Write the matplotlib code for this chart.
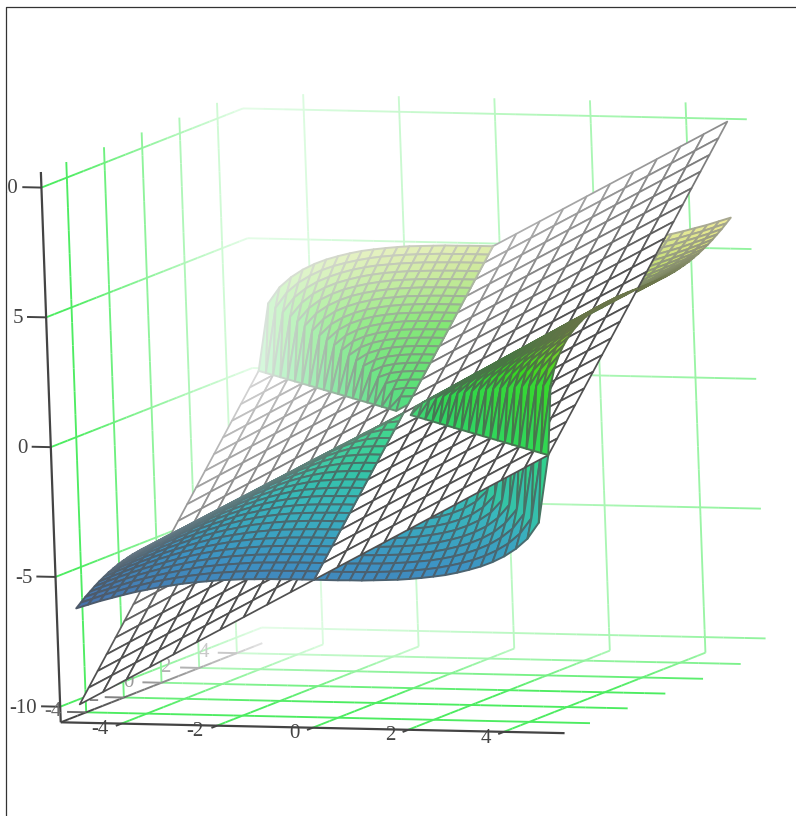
import matplotlib
matplotlib.use('Agg')
import matplotlib.pyplot as plt
import numpy as np
from matplotlib.colors import LinearSegmentedColormap, Normalize, to_rgb
from matplotlib.lines import Line2D
from matplotlib.transforms import Bbox
from mpl_toolkits.mplot3d import proj3d
from mpl_toolkits.mplot3d.art3d import Line3DCollection, Poly3DCollection

W, H = 796, 816

# ticks and axis ranges
x_ticks = [-4, -2, 0, 2, 4]
y_ticks = [-4, -2, 0, 2, 4]
z_ticks = [-10, -5, 0, 5, 10]
x_range = [-5.27, 5.27]
y_range = [-5.35, 5.35]
z_range = [-10.6, 10.6]

# flat mesh, y from -5 to 0 (the other half is the same turned around the centre)
plane_x = [-5, -4.5, -4, -3.5, -3, -2.5, -2, -1.5, -1, -0.5, 0, 0.5, 1, 1.5, 2, 2.5, 3, 3.5, 4, 4.5, 5]
plane_rows = [
    [-10, -9.5, -9, -8.5, -8, -7.5, -7, -6.5, -6, -5.5, -5, -4.5, -4, -3.5, -3, -2.5, -2, -1.5, -1, -0.5, 0],
    [-9.5, -9, -8.5, -8, -7.5, -7, -6.5, -6, -5.5, -5, -4.5, -4, -3.5, -3, -2.5, -2, -1.5, -1, -0.5, 0, 0.5],
    [-9, -8.5, -8, -7.5, -7, -6.5, -6, -5.5, -5, -4.5, -4, -3.5, -3, -2.5, -2, -1.5, -1, -0.5, 0, 0.5, 1],
    [-8.5, -8, -7.5, -7, -6.5, -6, -5.5, -5, -4.5, -4, -3.5, -3, -2.5, -2, -1.5, -1, -0.5, 0, 0.5, 1, 1.5],
    [-8, -7.5, -7, -6.5, -6, -5.5, -5, -4.5, -4, -3.5, -3, -2.5, -2, -1.5, -1, -0.5, 0, 0.5, 1, 1.5, 2],
    [-7.5, -7, -6.5, -6, -5.5, -5, -4.5, -4, -3.5, -3, -2.5, -2, -1.5, -1, -0.5, 0, 0.5, 1, 1.5, 2, 2.5],
    [-7, -6.5, -6, -5.5, -5, -4.5, -4, -3.5, -3, -2.5, -2, -1.5, -1, -0.5, 0, 0.5, 1, 1.5, 2, 2.5, 3],
    [-6.5, -6, -5.5, -5, -4.5, -4, -3.5, -3, -2.5, -2, -1.5, -1, -0.5, 0, 0.5, 1, 1.5, 2, 2.5, 3, 3.5],
    [-6, -5.5, -5, -4.5, -4, -3.5, -3, -2.5, -2, -1.5, -1, -0.5, 0, 0.5, 1, 1.5, 2, 2.5, 3, 3.5, 4],
    [-5.5, -5, -4.5, -4, -3.5, -3, -2.5, -2, -1.5, -1, -0.5, 0, 0.5, 1, 1.5, 2, 2.5, 3, 3.5, 4, 4.5],
    [-5, -4.5, -4, -3.5, -3, -2.5, -2, -1.5, -1, -0.5, 0, 0.5, 1, 1.5, 2, 2.5, 3, 3.5, 4, 4.5, 5],
]

# curved surface, y from -5 to 0 in steps of 0.25
surface_x = [-5, -4.75, -4.5, -4.25, -4, -3.75, -3.5, -3.25, -3, -2.75, -2.5, -2.25, -2, -1.75, -1.5, -1.25, -1, -0.75, -0.5, -0.25,
             0, 0.25, 0.5, 0.75, 1, 1.25, 1.5, 1.75, 2, 2.25, 2.5, 2.75, 3, 3.25, 3.5, 3.75, 4, 4.25, 4.5, 4.75, 5]
surface_rows = [
    [-6.30,-6.15,-6.00,-5.87,-5.74,-5.62,-5.52,-5.42,-5.34,-5.26,-5.20,-5.15,-5.10,-5.07,-5.04,-5.03,-5.01,-5.01,-5.00,-5.00,-5.00,
     -5.00,-5.00,-4.99,-4.99,-4.97,-4.95,-4.93,-4.89,-4.84,-4.78,-4.71,-4.61,-4.49,-4.35,-4.17,-3.94,-3.64,-3.24,-2.61,0],
    [-6.15,-5.99,-5.83,-5.69,-5.55,-5.43,-5.31,-5.21,-5.12,-5.04,-4.97,-4.91,-4.87,-4.83,-4.80,-4.78,-4.76,-4.76,-4.75,-4.75,-4.75,
     -4.75,-4.75,-4.74,-4.74,-4.72,-4.70,-4.67,-4.63,-4.58,-4.51,-4.42,-4.31,-4.18,-4.01,-3.79,-3.51,-3.12,-2.52,0,2.61],
    [-6.00,-5.83,-5.67,-5.52,-5.37,-5.24,-5.12,-5.01,-4.91,-4.82,-4.74,-4.68,-4.63,-4.59,-4.55,-4.53,-4.52,-4.51,-4.50,-4.50,-4.50,
     -4.50,-4.50,-4.49,-4.48,-4.47,-4.44,-4.41,-4.36,-4.31,-4.23,-4.13,-4.00,-3.84,-3.64,-3.37,-3.01,-2.43,0,2.52,3.24],
    [-5.87,-5.69,-5.52,-5.35,-5.20,-5.06,-4.93,-4.81,-4.70,-4.60,-4.52,-4.45,-4.39,-4.35,-4.31,-4.29,-4.27,-4.26,-4.25,-4.25,-4.25,
     -4.25,-4.25,-4.24,-4.23,-4.21,-4.19,-4.15,-4.10,-4.03,-3.94,-3.82,-3.68,-3.49,-3.24,-2.88,-2.34,0,2.43,3.12,3.64],
    [-5.74,-5.55,-5.37,-5.20,-5.04,-4.89,-4.75,-4.62,-4.50,-4.39,-4.30,-4.22,-4.16,-4.11,-4.07,-4.04,-4.02,-4.01,-4.00,-4.00,-4.00,
     -4.00,-4.00,-3.99,-3.98,-3.96,-3.93,-3.89,-3.83,-3.75,-3.64,-3.51,-3.33,-3.10,-2.76,-2.24,0,2.34,3.01,3.51,3.94],
    [-5.62,-5.43,-5.24,-5.06,-4.89,-4.72,-4.57,-4.43,-4.31,-4.19,-4.09,-4.00,-3.93,-3.87,-3.83,-3.80,-3.77,-3.76,-3.75,-3.75,-3.75,
     -3.75,-3.75,-3.74,-3.73,-3.70,-3.67,-3.62,-3.55,-3.46,-3.34,-3.17,-2.95,-2.64,-2.15,0,2.24,2.88,3.37,3.79,4.17],
    [-5.52,-5.31,-5.12,-4.93,-4.75,-4.57,-4.41,-4.26,-4.12,-3.99,-3.88,-3.79,-3.71,-3.64,-3.59,-3.55,-3.53,-3.51,-3.50,-3.50,-3.50,
     -3.50,-3.50,-3.49,-3.47,-3.45,-3.40,-3.35,-3.27,-3.16,-3.01,-2.81,-2.51,-2.04,0,2.15,2.76,3.24,3.64,4.01,4.35],
    [-5.42,-5.21,-5.01,-4.81,-4.62,-4.43,-4.26,-4.09,-3.94,-3.80,-3.68,-3.58,-3.48,-3.41,-3.35,-3.31,-3.28,-3.26,-3.25,-3.25,-3.25,
     -3.25,-3.25,-3.24,-3.22,-3.19,-3.14,-3.07,-2.98,-2.84,-2.65,-2.38,-1.94,0,2.04,2.64,3.10,3.49,3.84,4.18,4.49],
    [-5.34,-5.12,-4.91,-4.70,-4.50,-4.31,-4.12,-3.94,-3.78,-3.63,-3.49,-3.37,-3.27,-3.19,-3.12,-3.07,-3.04,-3.02,-3.01,-3.00,-3.00,
     -3.00,-3.00,-2.98,-2.96,-2.93,-2.87,-2.79,-2.67,-2.50,-2.25,-1.84,0,1.94,2.51,2.95,3.33,3.68,4.00,4.31,4.61],
    [-5.26,-5.04,-4.82,-4.60,-4.39,-4.19,-3.99,-3.80,-3.63,-3.47,-3.31,-3.18,-3.07,-2.97,-2.89,-2.83,-2.79,-2.77,-2.76,-2.75,-2.75,
     -2.75,-2.74,-2.73,-2.71,-2.66,-2.59,-2.49,-2.34,-2.11,-1.73,0,1.84,2.38,2.81,3.17,3.51,3.82,4.13,4.42,4.71],
    [-5.20,-4.97,-4.74,-4.52,-4.30,-4.09,-3.88,-3.68,-3.49,-3.31,-3.15,-3.00,-2.87,-2.76,-2.67,-2.60,-2.55,-2.52,-2.51,-2.50,-2.50,
     -2.50,-2.49,-2.48,-2.45,-2.39,-2.30,-2.17,-1.97,-1.62,0,1.73,2.25,2.65,3.01,3.34,3.64,3.94,4.23,4.51,4.78],
    [-5.15,-4.91,-4.68,-4.45,-4.22,-4.00,-3.79,-3.58,-3.37,-3.18,-3.00,-2.84,-2.69,-2.56,-2.45,-2.37,-2.32,-2.28,-2.26,-2.25,-2.25,
     -2.25,-2.24,-2.22,-2.18,-2.11,-2.00,-1.82,-1.50,0,1.62,2.11,2.50,2.84,3.16,3.46,3.75,4.03,4.31,4.58,4.84],
    [-5.10,-4.87,-4.63,-4.39,-4.16,-3.93,-3.71,-3.48,-3.27,-3.07,-2.87,-2.69,-2.52,-2.37,-2.25,-2.15,-2.08,-2.04,-2.01,-2.00,-2.00,
     -2.00,-1.99,-1.96,-1.91,-1.82,-1.67,-1.38,0,1.50,1.97,2.34,2.67,2.98,3.27,3.55,3.83,4.10,4.36,4.63,4.89],
    [-5.07,-4.83,-4.59,-4.35,-4.11,-3.87,-3.64,-3.41,-3.19,-2.97,-2.76,-2.56,-2.37,-2.20,-2.06,-1.94,-1.85,-1.79,-1.76,-1.75,-1.75,
     -1.75,-1.74,-1.70,-1.63,-1.50,-1.26,0,1.38,1.82,2.17,2.49,2.79,3.07,3.35,3.62,3.89,4.15,4.41,4.67,4.93],
    [-5.04,-4.80,-4.55,-4.31,-4.07,-3.83,-3.59,-3.35,-3.12,-2.89,-2.67,-2.45,-2.25,-2.06,-1.89,-1.75,-1.64,-1.56,-1.52,-1.50,-1.50,
     -1.50,-1.48,-1.43,-1.33,-1.12,0,1.26,1.67,2.00,2.30,2.59,2.87,3.14,3.40,3.67,3.93,4.19,4.44,4.70,4.95],
    [-5.03,-4.78,-4.53,-4.29,-4.04,-3.80,-3.55,-3.31,-3.07,-2.83,-2.60,-2.37,-2.15,-1.94,-1.75,-1.57,-1.43,-1.33,-1.28,-1.25,-1.25,
     -1.25,-1.22,-1.15,-0.98,0,1.12,1.50,1.82,2.11,2.39,2.66,2.93,3.19,3.45,3.70,3.96,4.21,4.47,4.72,4.97],
    [-5.01,-4.76,-4.52,-4.27,-4.02,-3.77,-3.53,-3.28,-3.04,-2.79,-2.55,-2.32,-2.08,-1.85,-1.64,-1.43,-1.26,-1.12,-1.04,-1.01,-1.00,
     -0.99,-0.96,-0.83,0,0.98,1.33,1.63,1.91,2.18,2.45,2.71,2.96,3.22,3.47,3.73,3.98,4.23,4.48,4.74,4.99],
    [-5.01,-4.76,-4.51,-4.26,-4.01,-3.76,-3.51,-3.26,-3.02,-2.77,-2.52,-2.28,-2.04,-1.79,-1.56,-1.33,-1.12,-0.94,-0.82,-0.76,-0.75,
     -0.74,-0.67,0,0.83,1.15,1.43,1.70,1.96,2.22,2.48,2.73,2.98,3.24,3.49,3.74,3.99,4.24,4.49,4.74,4.99],
    [-5.00,-4.75,-4.50,-4.25,-4.00,-3.75,-3.50,-3.25,-3.01,-2.76,-2.51,-2.26,-2.01,-1.76,-1.52,-1.28,-1.04,-0.82,-0.63,-0.52,-0.50,
     -0.48,0,0.67,0.96,1.22,1.48,1.74,1.99,2.24,2.49,2.74,3.00,3.25,3.50,3.75,4.00,4.25,4.50,4.75,5.00],
    [-5.00,-4.75,-4.50,-4.25,-4.00,-3.75,-3.50,-3.25,-3.00,-2.75,-2.50,-2.25,-2.00,-1.75,-1.50,-1.25,-1.01,-0.76,-0.52,-0.31,-0.25,
     0,0.48,0.74,0.99,1.25,1.50,1.75,2.00,2.25,2.50,2.75,3.00,3.25,3.50,3.75,4.00,4.25,4.50,4.75,5.00],
    [-5.00,-4.75,-4.50,-4.25,-4.00,-3.75,-3.50,-3.25,-3.00,-2.75,-2.50,-2.25,-2.00,-1.75,-1.50,-1.25,-1.00,-0.75,-0.50,-0.25,0,
     0.25,0.50,0.75,1.00,1.25,1.50,1.75,2.00,2.25,2.50,2.75,3.00,3.25,3.50,3.75,4.00,4.25,4.50,4.75,5.00],
]

surface_colors = ['#4a6fa8', '#3d92c4', '#38b8bc', '#30d090', '#30d850', '#38d820', '#a0d030', '#e8e060']
grid_color = np.array(to_rgb('#4cec60'))
dark = '#444444'


def fog(x, y):
    # things further from the camera wash out to white
    return np.clip(0.09 * (np.asarray(y) - 0.5 * np.asarray(x) + 1.5), 0, 0.85)


def fade(rgb, f):
    rgb = np.asarray(rgb, dtype=float)[:3]
    return np.clip(rgb + (1 - rgb) * f, 0, 1)


def full_table(rows):
    rows = np.array(rows, dtype=float)
    return np.vstack([rows, -rows[-2::-1, ::-1]])


def fogged_lines(p0, p1, color, n=24):
    p0, p1 = np.array(p0, dtype=float), np.array(p1, dtype=float)
    t = np.linspace(0, 1, n + 1)[:, None]
    pts = p0 + (p1 - p0) * t
    segs = [pts[i:i + 2] for i in range(n)]
    cols = [fade(color, fog(*((s[0] + s[1]) / 2)[:2])) for s in segs]
    return segs, cols


plane_z = full_table(plane_rows)
surface_z = full_table(surface_rows)
PX, PY = np.meshgrid(plane_x, plane_x)
SX, SY = np.meshgrid(surface_x, surface_x)

fig = plt.figure(figsize=(W / 100, H / 100), dpi=100, facecolor='white')
S = 830
ax = fig.add_axes([(W - S) / 2 / W, (H - S) / 2 / H, S / W, S / H], projection='3d', proj_type='ortho')
ax.computed_zorder = False
ax.view_init(elev=8.19, azim=-67.94, roll=2.07)
ax.set_xlim(*x_range, view_margin=0)
ax.set_ylim(*y_range, view_margin=0)
ax.set_zlim(*z_range, view_margin=0)
ax.set_xticks([])
ax.set_yticks([])
ax.set_zticks([])
ax.set_axis_off()

box = np.array([542.8, 543.9, 556.3])
zoom = 918 / S
ax.set_box_aspect(box, zoom=zoom)


def to_px(x, y, z):
    X, Y, _ = proj3d.proj_transform(x, y, z, ax.get_proj())
    return ax.transData.transform((float(X), float(Y)))


# fit the scene to the picture: size from the front axis, then the centre
xa, xb = x_range
ya, yb = y_range
za, zb = z_range
ax.apply_aspect()
span = np.linalg.norm(to_px(xb, ya, za) - to_px(xa, ya, za))
zoom *= np.hypot((xb - xa) * 47.8, (xb - xa) * 1.03) / span
ax.set_box_aspect(box, zoom=zoom)
ax.apply_aspect()
cx, cy = to_px(0, 0, 0)
pos = ax.get_position(original=True)
ax.set_position([pos.x0 + (403.5 - cx) / W, pos.y0 + (H - 413 - cy) / H, pos.width, pos.height])

# green grid on the two walls and the floor
grid_segs, grid_cols = [], []
for z in z_ticks:
    for p0, p1 in [((xa, ya, z), (xa, yb, z)), ((xa, yb, z), (xb, yb, z))]:
        s, c = fogged_lines(p0, p1, grid_color)
        grid_segs += s
        grid_cols += c
for y in y_ticks:
    for p0, p1 in [((xa, y, za), (xa, y, zb)), ((xa, y, za), (xb, y, za))]:
        s, c = fogged_lines(p0, p1, grid_color)
        grid_segs += s
        grid_cols += c
for x in x_ticks:
    for p0, p1 in [((x, yb, za), (x, yb, zb)), ((x, ya, za), (x, yb, za))]:
        s, c = fogged_lines(p0, p1, grid_color)
        grid_segs += s
        grid_cols += c
ax.add_collection3d(Line3DCollection(grid_segs, colors=grid_cols, linewidths=1.35, zorder=1))

# axes, tick dashes
axis_col = np.array(to_rgb(dark))
for p0, p1 in [((xa, ya, za), (xb, ya, za)), ((xa, ya, za), (xa, ya, zb))]:
    ax.add_collection3d(Line3DCollection([[p0, p1]], colors=[dark], linewidths=1.6, zorder=1.5))
s, c = fogged_lines((xa, ya, za), (xa, yb, za), axis_col)
tick_segs, tick_cols = list(s), list(c)
for x in x_ticks:
    tick_segs.append([(x, ya, za), (x, ya - 0.3, za)])
    tick_cols.append(axis_col)
for z in z_ticks:
    tick_segs.append([(xa, ya, z), (xa - 0.4, ya, z)])
    tick_cols.append(axis_col)
for y in y_ticks:
    tick_segs.append([(xa, y, za), (xa - 0.4, y, za)])
    tick_cols.append(fade(axis_col, 0.2 + 0.7 * fog(xa, y)))
ax.add_collection3d(Line3DCollection(tick_segs, colors=tick_cols, linewidths=1.4, zorder=1.5))

# tick labels
frame_clip = Bbox([[7, 0], [W, H - 6]])
font = dict(family='Liberation Serif', fontsize=15, va='center', zorder=1.6)
for x in x_ticks:
    ax.text(x, ya - 0.7, za - 0.04, str(x), color=dark, ha='right', **font)
for z in z_ticks:
    t = ax.text(xa - 0.49, ya, z - 0.07, str(z), color=dark, ha='right', **font)
    t.set_clip_box(frame_clip)
    t.set_clip_on(True)
for y in y_ticks:
    ax.text(xa - 0.7, y, za, str(y), color=fade(axis_col, 0.2 + 0.7 * fog(xa, y)), ha='center', **font)

# flat mesh
verts, faces, edges = [], [], []
mesh_col = np.array(to_rgb('#505050'))
for j in range(len(plane_x) - 1):
    for i in range(len(plane_x) - 1):
        idx = [(j, i), (j, i + 1), (j + 1, i + 1), (j + 1, i)]
        verts.append([(PX[k], PY[k], plane_z[k]) for k in idx])
        f = fog(np.mean([PX[k] for k in idx]), np.mean([PY[k] for k in idx]))
        faces.append((1, 1, 1))
        edges.append(fade(mesh_col, f))
ax.add_collection3d(Poly3DCollection(verts, facecolors=faces, edgecolors=edges, linewidths=1.25, zorder=3))

# curved surface: the part under the flat mesh goes behind it, the rest in front
cmap = LinearSegmentedColormap.from_list('surf', surface_colors)
norm = Normalize(-6.3, 6.3)
parts = {True: ([], [], []), False: ([], [], [])}


def add_face(idx, d):
    pts = [(SX[k], SY[k], surface_z[k]) for k in idx]
    f = fog(np.mean([SX[k] for k in idx]), np.mean([SY[k] for k in idx]))
    v, fc, ec = parts[bool(d > 0)]
    col = np.array(cmap(norm(np.mean([surface_z[k] for k in idx]))))[:3]
    v.append(pts)
    fc.append(fade(col, f))
    # mesh lines pick up a little of the colour below them
    ec.append(fade(0.72 * mesh_col + 0.28 * col, f))


gap = surface_z - (SX + SY)
for j in range(len(surface_x) - 1):
    for i in range(len(surface_x) - 1):
        a, b, c, d = (j, i), (j, i + 1), (j + 1, i + 1), (j + 1, i)
        vals = [gap[a], gap[b], gap[c], gap[d]]
        if max(vals) > 0.005 and min(vals) < -0.005 and abs(gap[b]) < 0.02 and abs(gap[d]) < 0.02:
            # cell cut by the line where both sheets meet
            add_face([a, b, d], gap[a])
            add_face([b, c, d], gap[c])
        else:
            add_face([a, b, c, d], sum(vals))
for front, (v, fc, ec) in parts.items():
    ax.add_collection3d(Poly3DCollection(v, facecolors=fc, edgecolors=ec, linewidths=1.4,
                                         zorder=4 if front else 2))

# picture frame, left and top only
fig.add_artist(Line2D([5.5 / W, 5.5 / W, 1], [0, 1 - 6.5 / H, 1 - 6.5 / H], color='#333333', lw=0.9))

fig.savefig('out.png', dpi=100)
